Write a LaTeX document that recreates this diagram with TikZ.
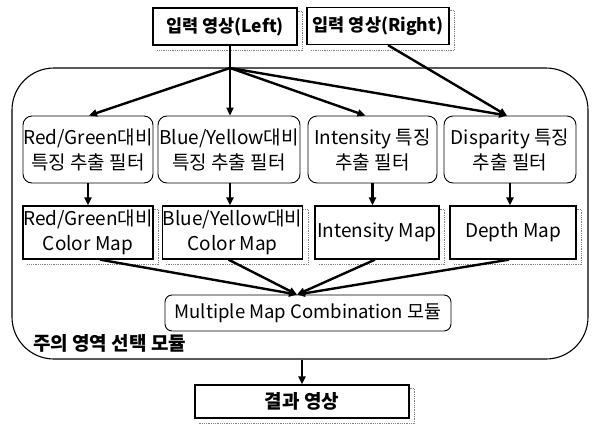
\documentclass[tikz,border=0pt]{standalone}
\usepackage{fontspec}
\setmainfont{Noto Sans CJK KR}
\usetikzlibrary{arrows.meta,calc}
\begin{document}
\begin{tikzpicture}[x=1pt,y=-1pt,
  every node/.style={font=\fontsize{19}{25}\selectfont, align=center, inner sep=0pt},
  filterbox/.style={draw, line width=0.9pt, rounded corners=9pt, minimum height=67pt},
  mapbox/.style={draw, line width=1.3pt, minimum height=53pt},
  inbox/.style={draw, line width=1.3pt, minimum height=37pt, font=\fontsize{17.5}{21}\selectfont\bfseries},
  shade/.style={gray, densely dotted, line width=0.8pt},
  arr/.style={line width=2.4pt, -{Triangle[length=8pt,width=7pt]}},
  lin/.style={line width=2.4pt}
]
\useasboundingbox (0,0) rectangle (594,424);
% outer module
\node[draw, line width=1.1pt, rounded corners=42pt, minimum width=576pt, minimum height=291pt] (outer) at (300,213.5) {};
% inputs
\node[inbox, minimum width=144pt] (lin) at (225,26.5) {입력 영상(Left)};
\node[inbox, minimum width=142pt] (rin) at (378,26) {입력 영상(Right)};
% filters
\node[filterbox, minimum width=130pt] (f1) at (88,149.5) {Red/Green대비\\특징 추출 필터};
\node[filterbox, minimum width=142pt] (f2) at (229,149.5) {Blue/Yellow대비\\특징 추출 필터};
\node[filterbox, minimum width=129pt] (f3) at (372.5,149.5) {Intensity 특징\\추출 필터};
\node[filterbox, minimum width=132pt] (f4) at (510,149.5) {Disparity 특징\\추출 필터};
% maps
\node[mapbox, minimum width=130pt] (m1) at (88,232.5) {Red/Green대비\\Color Map};
\node[mapbox, minimum width=139pt] (m2) at (232.5,232.5) {Blue/Yellow대비\\Color Map};
\node[mapbox, minimum width=124pt] (m3) at (377,232.5) {Intensity Map};
\node[mapbox, minimum width=126pt] (m4) at (513,232.5) {Depth Map};
% combination
\node[draw, line width=0.9pt, rounded corners=7pt, minimum width=286pt, minimum height=36pt, font=\fontsize{18.5}{22}\selectfont] (comb) at (308,313) {Multiple Map Combination 모듈};
\node[anchor=west, font=\fontsize{19}{23}\selectfont\bfseries] (lab) at (33,343) {주의 영역 선택 모듈};
% result
\node[inbox, minimum width=214pt, minimum height=33pt, font=\fontsize{19}{23}\selectfont\bfseries] (res) at (302,401.5) {결과 영상};
% shadows
\foreach \n in {lin,rin,m1,m2,m3,m4,res}{
  \draw[shade] ($(\n.north east)+(0,4)$) -- ++(5,0) |- ($(\n.south west)+(4,5)$);
}
% connectors
\coordinate (br) at (230,68);
\coordinate (cv) at ([xshift=-11pt]comb.north);
\draw[lin] (lin.south -| br) -- (br);
\draw[arr] (br) -- ([xshift=1pt]f1.north);
\draw[arr] (br) -- (f2.north -| br);
\draw[arr] (br) -- ([xshift=-7pt]f3.north);
\draw[arr] (br) -- ([xshift=-3pt]f4.north);
\draw[arr] ([xshift=10pt]rin.south) -- ([xshift=-3pt]f4.north);
\draw[arr] (f1.south) -- (f1.south |- m1.north);
\draw[arr] ([xshift=1pt]f2.south) -- ([xshift=1pt]f2.south |- m2.north);
\draw[arr] (f3.south) -- (f3.south |- m3.north);
\draw[arr] (f4.south) -- (f4.south |- m4.north);
\draw[arr] ([xshift=12pt]m1.south) -- (cv);
\draw[arr] ([xshift=-4pt]m2.south) -- (cv);
\draw[arr] ([xshift=-2pt]m3.south) -- (cv);
\draw[arr] ([xshift=-4pt]m4.south) -- (cv);
\draw[arr] (outer.south -| res) -- (res.north);
\end{tikzpicture}
\end{document}
